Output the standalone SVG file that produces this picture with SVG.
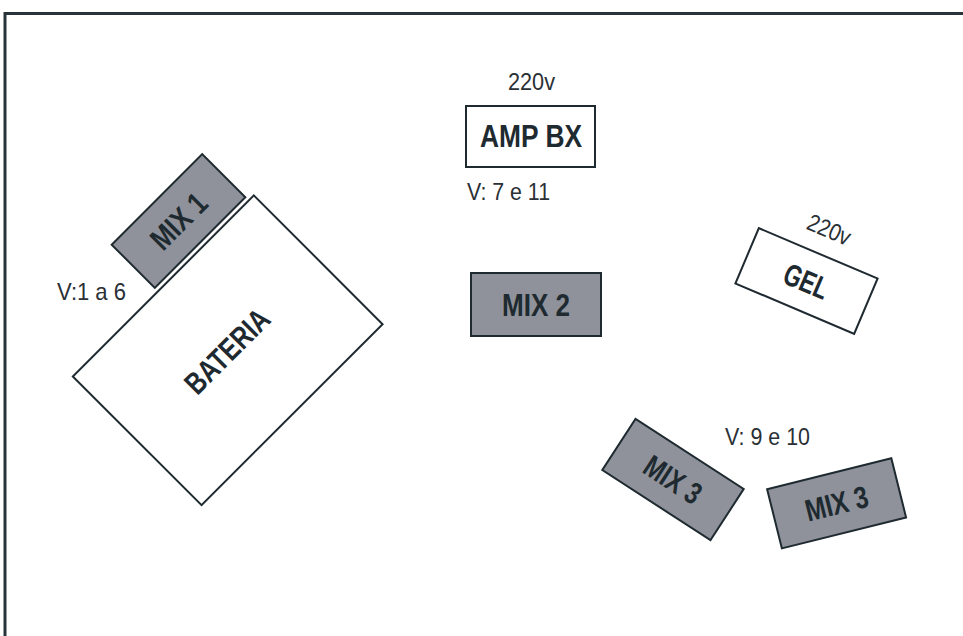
<svg xmlns="http://www.w3.org/2000/svg" width="963" height="636" viewBox="0 0 963 636">
<style>
.box{fill:#ffffff;stroke:#1e2a30;stroke-width:2}
.mix{fill:#8f929a;stroke:#1e2a30;stroke-width:2}
.lbl{font-family:"Liberation Sans",Arial,sans-serif;font-weight:bold;font-size:31px;fill:#1e2a30;text-anchor:middle}
.note{font-family:"Liberation Sans",Arial,sans-serif;font-size:24px;fill:#2a3035}
.border{fill:none;stroke:#28343a;stroke-width:3}
</style>
<rect width="963" height="636" fill="#ffffff"/>
<path class="border" d="M5,636 V13.5 H963"/>
<g id="bateria" transform="translate(227,351) rotate(-45)">
<rect class="box" x="-128" y="-91" width="256" height="182" transform="translate(1,0)"/>
<text class="lbl" x="0" y="11" font-size="32" textLength="106" lengthAdjust="spacingAndGlyphs">BATERIA</text>
</g>
<g id="mix1" transform="translate(178.5,221) rotate(-45)">
<rect class="mix" x="-64" y="-30.5" width="128" height="61"/>
<text class="lbl" x="0" y="11" textLength="66" lengthAdjust="spacingAndGlyphs">MIX 1</text>
</g>
<g id="note-v1a6"><text class="note" x="57" y="300" textLength="69" lengthAdjust="spacingAndGlyphs">V:1 a 6</text></g>
<g id="ampbx">
<rect class="box" x="466" y="106" width="129" height="61"/>
<text class="lbl" x="531" y="147" textLength="102" lengthAdjust="spacingAndGlyphs">AMP BX</text>
</g>
<g id="note-220-amp"><text class="note" x="508" y="90" textLength="47" lengthAdjust="spacingAndGlyphs">220v</text></g>
<g id="note-v7e11"><text class="note" x="467" y="200" textLength="83" lengthAdjust="spacingAndGlyphs">V: 7 e 11</text></g>
<g id="mix2">
<rect class="mix" x="471" y="273" width="130" height="63"/>
<text class="lbl" x="536" y="316" textLength="68" lengthAdjust="spacingAndGlyphs">MIX 2</text>
</g>
<g id="gel" transform="translate(806.5,281) rotate(23)">
<rect class="box" x="-64.5" y="-30" width="129" height="60"/>
<text class="lbl" x="0" y="11" textLength="46" lengthAdjust="spacingAndGlyphs">GEL</text>
</g>
<g id="note-220-gel" transform="translate(829,230) rotate(23)"><text class="note" x="0" y="8" text-anchor="middle" textLength="45" lengthAdjust="spacingAndGlyphs">220v</text></g>
<g id="mix3a" transform="translate(673,479.5) rotate(33)">
<rect class="mix" x="-64.5" y="-30.5" width="129" height="61"/>
<text class="lbl" x="0" y="11" textLength="62" lengthAdjust="spacingAndGlyphs">MIX 3</text>
</g>
<g id="mix3b" transform="translate(836.6,503.3) rotate(-14)">
<rect class="mix" x="-64" y="-30.5" width="128" height="61"/>
<text class="lbl" x="0" y="11" textLength="64" lengthAdjust="spacingAndGlyphs">MIX 3</text>
</g>
<g id="note-v9e10"><text class="note" x="725" y="445" textLength="85" lengthAdjust="spacingAndGlyphs">V: 9 e 10</text></g>
<g id="connectors"/>
</svg>
